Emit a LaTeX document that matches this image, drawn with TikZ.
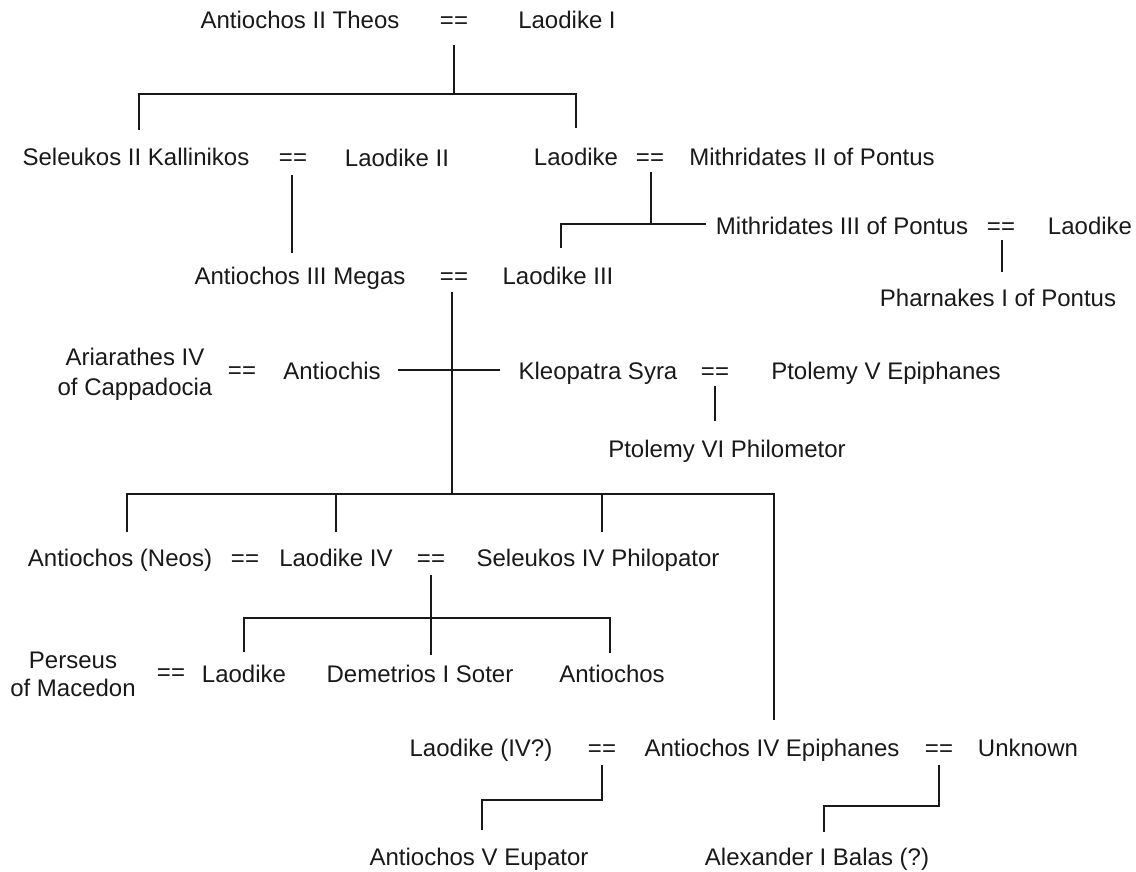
\documentclass[tikz,border=0pt]{standalone}
\usepackage{fontspec}
\setmainfont{Liberation Sans}
\begin{document}
\begin{tikzpicture}[x=1pt,y=-1pt,
  person/.style={anchor=base,inner sep=0pt,font=\fontsize{24}{28}\selectfont,text=black!90},
  link/.style={line width=1.5pt,black!90}]
\useasboundingbox (0,0) rectangle (1136,872);
% row 1
\node[person] (a2) at (300,29) {Antiochos II Theos};
\node[person] (e1) at (454,29) {==};
\node[person] (l1) at (567,29) {Laodike I};
% row 2
\node[person] (s2) at (136,166) {Seleukos II Kallinikos};
\node[person] (e2) at (293,166) {==};
\node[person] (l2) at (397,167) {Laodike II};
\node[person] (ld) at (576,166) {Laodike};
\node[person] (e3) at (650,166) {==};
\node[person] (m2) at (812,166) {Mithridates II of Pontus};
% Pontus
\node[person] (m3) at (842,234) {Mithridates III of Pontus};
\node[person] (e4) at (1001,234) {==};
\node[person] (ldb) at (1090,234) {Laodike};
\node[person] (ph) at (998,306) {Pharnakes I of Pontus};
% row 3
\node[person] (a3) at (300,284) {Antiochos III Megas};
\node[person] (e5) at (454,284) {==};
\node[person] (l3) at (558,284) {Laodike III};
% row 4
\node[person] (ar1) at (135,365) {Ariarathes IV};
\node[person] (ar2) at (135,395) {of Cappadocia};
\node[person] (e6) at (242,378) {==};
\node[person] (ach) at (332,379) {Antiochis};
\node[person] (ks) at (598,379) {Kleopatra Syra};
\node[person] (e7) at (715,379) {==};
\node[person] (p5) at (886,379) {Ptolemy V Epiphanes};
\node[person] (p6) at (727,457) {Ptolemy VI Philometor};
% row 5
\node[person] (an) at (120,566) {Antiochos (Neos)};
\node[person] (e8) at (245,566) {==};
\node[person] (l4) at (336,566) {Laodike IV};
\node[person] (e9) at (431,566) {==};
\node[person] (s4) at (598,566) {Seleukos IV Philopator};
% row 6
\node[person] (pe1) at (73,668) {Perseus};
\node[person] (pe2) at (73,696) {of Macedon};
\node[person] (e10) at (171,680) {==};
\node[person] (ldc) at (244,682) {Laodike};
\node[person] (d1) at (420,682) {Demetrios I Soter};
\node[person] (ach2) at (612,682) {Antiochos};
% row 7
\node[person] (l4q) at (481,756) {Laodike (IV?)};
\node[person] (e11) at (602,756) {==};
\node[person] (a4) at (772,756) {Antiochos IV Epiphanes};
\node[person] (e12) at (939,756) {==};
\node[person] (unk) at (1028,756) {Unknown};
% row 8
\node[person] (a5) at (479,865) {Antiochos V Eupator};
\node[person] (alx) at (817,865) {Alexander I Balas (?)};
% coordinates
\coordinate (c1) at (454,45);
\coordinate (c1j) at (454,94);
\coordinate (c1l) at (139,94);
\coordinate (c1r) at (576,94);
\coordinate (s2t) at (139,130);
\coordinate (ldt) at (576,128);
\coordinate (c2) at (292,175);
\coordinate (a3t) at (292,253);
\coordinate (c3) at (651,172);
\coordinate (c3j) at (651,224);
\coordinate (c3l) at (561,224);
\coordinate (m3l) at (706,224);
\coordinate (l3t) at (561,248);
\coordinate (c4) at (1002,240);
\coordinate (pht) at (1002,272);
\coordinate (c5) at (452,292);
\coordinate (c5j) at (452,494);
\coordinate (achr) at (398,370);
\coordinate (ksl) at (500,370);
\coordinate (c6) at (715,386);
\coordinate (p6t) at (715,421);
\coordinate (c5l) at (127,494);
\coordinate (c5b) at (336,494);
\coordinate (c5c) at (602,494);
\coordinate (c5r) at (774,494);
\coordinate (ant) at (127,532);
\coordinate (l4t) at (336,532);
\coordinate (s4t) at (602,532);
\coordinate (a4t) at (774,720);
\coordinate (c7) at (431,575);
\coordinate (d1t) at (431,655);
\coordinate (c7l) at (244,618);
\coordinate (c7r) at (610,618);
\coordinate (ldct) at (244,652);
\coordinate (ach2t) at (610,653);
\coordinate (c8) at (602,765);
\coordinate (c8a) at (602,800);
\coordinate (c8b) at (482,800);
\coordinate (a5t) at (482,830);
\coordinate (c9) at (939,765);
\coordinate (c9a) at (939,806);
\coordinate (c9b) at (824,806);
\coordinate (alxt) at (824,832);
% connectors
\draw[link] (c1) -- (c1j);
\draw[link] (s2t) -- (c1l) -- (c1r) -- (ldt);
\draw[link] (c2) -- (a3t);
\draw[link] (c3) -- (c3j);
\draw[link] (l3t) -- (c3l) -- (m3l);
\draw[link] (c4) -- (pht);
\draw[link] (c5) -- (c5j);
\draw[link] (achr) -- (ksl);
\draw[link] (c6) -- (p6t);
\draw[link] (ant) -- (c5l) -- (c5r) -- (a4t);
\draw[link] (c5b) -- (l4t);
\draw[link] (c5c) -- (s4t);
\draw[link] (c7) -- (d1t);
\draw[link] (ldct) -- (c7l) -- (c7r) -- (ach2t);
\draw[link] (c8) -- (c8a) -- (c8b) -- (a5t);
\draw[link] (c9) -- (c9a) -- (c9b) -- (alxt);
\end{tikzpicture}
\end{document}
